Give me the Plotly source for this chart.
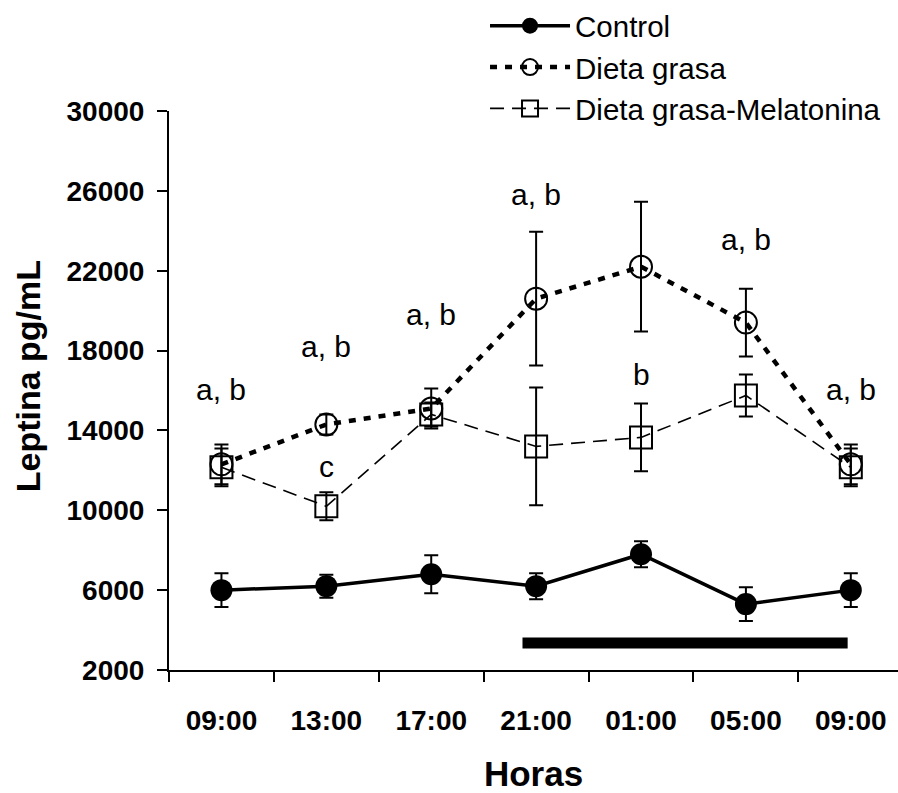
import plotly.graph_objects as go

# ---- data ----
hours = ["09:00", "13:00", "17:00", "21:00", "01:00", "05:00", "09:00"]
xpos = [0, 1, 2, 3, 4, 5, 6]

control = [6000, 6200, 6800, 6200, 7800, 5300, 6000]
control_err = [850, 575, 950, 650, 650, 850, 850]

dieta = [12300, 14300, 15100, 20600, 22200, 19400, 12300]
dieta_err = [1000, 500, 1000, 3350, 3250, 1700, 1000]

dieta_mel = [12150, 10200, 14800, 13200, 13650, 15750, 12150]
dieta_mel_err = [950, 700, 600, 2950, 1700, 1050, 950]

sig_text = ["a, b", "a, b", "a, b", "a, b", "a, b", "a, b", "c", "b"]
sig_x = [0, 1, 2, 3, 5, 6, 1, 4]
sig_y = [16075, 18221, 19818, 25807, 23561, 16075, 12182, 16823]

night_x = [2.87, 5.97]
night_y = 3350

yticks = [2000, 6000, 10000, 14000, 18000, 22000, 26000, 30000]

FONT = "Liberation Sans, Arial, sans-serif"

fig = go.Figure()

fig.add_trace(go.Scatter(
    x=xpos, y=control, name="Control", mode="lines+markers",
    line=dict(color="black", width=3.5),
    marker=dict(symbol="circle", size=22, color="black"),
    error_y=dict(type="data", array=control_err, color="black", thickness=2, width=7),
))
fig.add_trace(go.Scatter(
    x=xpos, y=dieta, name="Dieta grasa", mode="lines+markers",
    line=dict(color="black", width=4.5, dash="7px,8px"),
    marker=dict(symbol="circle-open", size=22, color="black", line=dict(width=2, color="black")),
    error_y=dict(type="data", array=dieta_err, color="black", thickness=2, width=7),
))
fig.add_trace(go.Scatter(
    x=xpos, y=dieta_mel, name="Dieta grasa-Melatonina", mode="lines+markers",
    line=dict(color="black", width=1.6, dash="14px,8px"),
    marker=dict(symbol="square-open", size=22, color="black", line=dict(width=2, color="black")),
    error_y=dict(type="data", array=dieta_mel_err, color="black", thickness=2, width=7),
))

fig.add_shape(type="line", x0=night_x[0], x1=night_x[1], y0=night_y, y1=night_y,
              xref="x", yref="y", line=dict(color="black", width=11))

for t, xx, yy in zip(sig_text, sig_x, sig_y):
    fig.add_annotation(x=xx, y=yy, text=t, showarrow=False,
                       font=dict(family=FONT, size=30, color="black"))

# y-axis title (placed slightly above the plot centre, as in the reference)
fig.add_annotation(x=-0.193, y=0.526, xref="paper", yref="paper",
                   xanchor="center", yanchor="middle",
                   text="<b>Leptina pg/mL</b>", textangle=-90, showarrow=False,
                   font=dict(family=FONT, size=34, color="black"))

fig.update_layout(
    width=898, height=793,
    margin=dict(l=169, r=0, t=109, b=123),
    plot_bgcolor="white", paper_bgcolor="white",
    font=dict(family=FONT, color="black"),
    showlegend=True,
    legend=dict(
        x=0.4335, xanchor="left", y=1.1985, yanchor="top",
        font=dict(family=FONT, size=29.5, color="black"),
        bgcolor="rgba(0,0,0,0)", itemwidth=80,
    ),
    xaxis=dict(
        range=[-0.5, 6.45], tickmode="array", tickvals=xpos, ticktext=hours,
        ticks="", showline=True, linecolor="black", linewidth=2,
        showgrid=False, zeroline=False,
        tickfont=dict(family=FONT, size=28, color="black", weight="bold"),
        ticklabelstandoff=24,
        minor=dict(tickvals=[-0.5, 0.5, 1.5, 2.5, 3.5, 4.5, 5.5], ticks="outside",
                   ticklen=10, tickwidth=2, tickcolor="black", showgrid=False),
        title=dict(text="<b>Horas</b>", font=dict(family=FONT, size=35, color="black"), standoff=27),
    ),
    yaxis=dict(
        range=[2000, 30000], tickmode="array", tickvals=yticks,
        ticktext=[f"<b>{v}</b>" for v in yticks],
        ticks="outside", ticklen=10, tickwidth=2, tickcolor="black",
        showline=True, linecolor="black", linewidth=2,
        showgrid=False, zeroline=False,
        tickfont=dict(family=FONT, size=28, color="black"),
        ticklabelstandoff=7,
    ),
)

fig.write_html("out.html")
